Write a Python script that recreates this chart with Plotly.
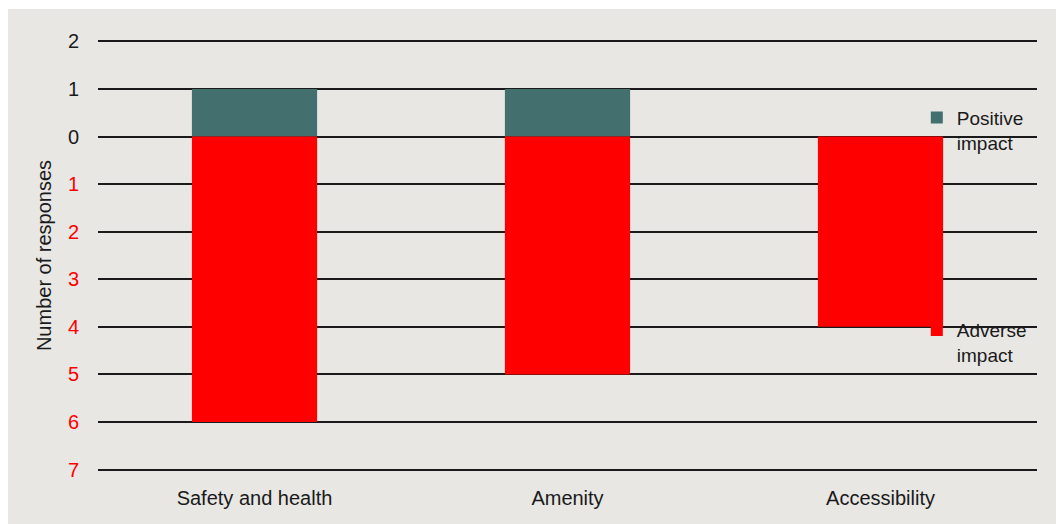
import plotly.graph_objects as go

categories = ["Safety and health", "Amenity", "Accessibility"]
positive_impact = [1, 1, 0]
adverse_impact = [-6, -5, -4]
series_names = ["Positive<br>impact", "Adverse<br>impact"]
tick_values = [2, 1, 0, -1, -2, -3, -4, -5, -6, -7]
tick_labels = ["2", "1", "0", "1", "2", "3", "4", "5", "6", "7"]

BG = "#E8E7E4"
TEAL = "#436F6E"
RED = "#FF0000"
FONT = "Liberation Sans, Arial, sans-serif"

ticktext = []
for v, lab in zip(tick_values, tick_labels):
    if v < 0:
        ticktext.append(f"<span style='color:{RED}'>{lab}</span>")
    else:
        ticktext.append(lab)

fig = go.Figure()
fig.add_trace(go.Bar(x=categories, y=positive_impact, name=series_names[0],
                     marker=dict(color=TEAL, line=dict(width=0)), width=0.4,
                     legendgroup="p"))
fig.add_trace(go.Bar(x=categories, y=adverse_impact, name=series_names[1],
                     marker=dict(color=RED, line=dict(width=0)), width=0.4,
                     legendgroup="a"))

fig.update_layout(
    width=1048, height=515,
    margin=dict(l=90, r=19, t=30, b=52, autoexpand=False),
    barmode="relative",
    paper_bgcolor=BG, plot_bgcolor=BG,
    font=dict(family=FONT, size=20, color="#1a1a1a"),
    legend=dict(x=0.872, y=0.862, xanchor="left", yanchor="top",
                bgcolor="rgba(0,0,0,0)", traceorder="grouped",
                tracegroupgap=160, valign="top",
                font=dict(size=19, color="#1a1a1a")),
    xaxis=dict(range=[-0.5, 2.5], showgrid=False, showline=False, zeroline=False,
               ticks="", ticklabelstandoff=12, automargin=False,
               tickfont=dict(size=20, color="#1a1a1a")),
    yaxis=dict(range=[-7.05, 2.05], tickvals=tick_values, ticktext=ticktext,
               showgrid=True, gridcolor="#1a1a1a", gridwidth=2,
               zeroline=True, zerolinecolor="#1a1a1a", zerolinewidth=2,
               showline=False, ticks="", ticklabelstandoff=18, automargin=False,
               tickfont=dict(size=20, color="#1a1a1a"),
               title=dict(text="Number of responses", standoff=10,
                          font=dict(size=20, color="#1a1a1a"))),
)

fig.write_html("out.html",
               post_script="document.body.style.margin='9px 0 0 8px';document.body.style.overflow='hidden';")
